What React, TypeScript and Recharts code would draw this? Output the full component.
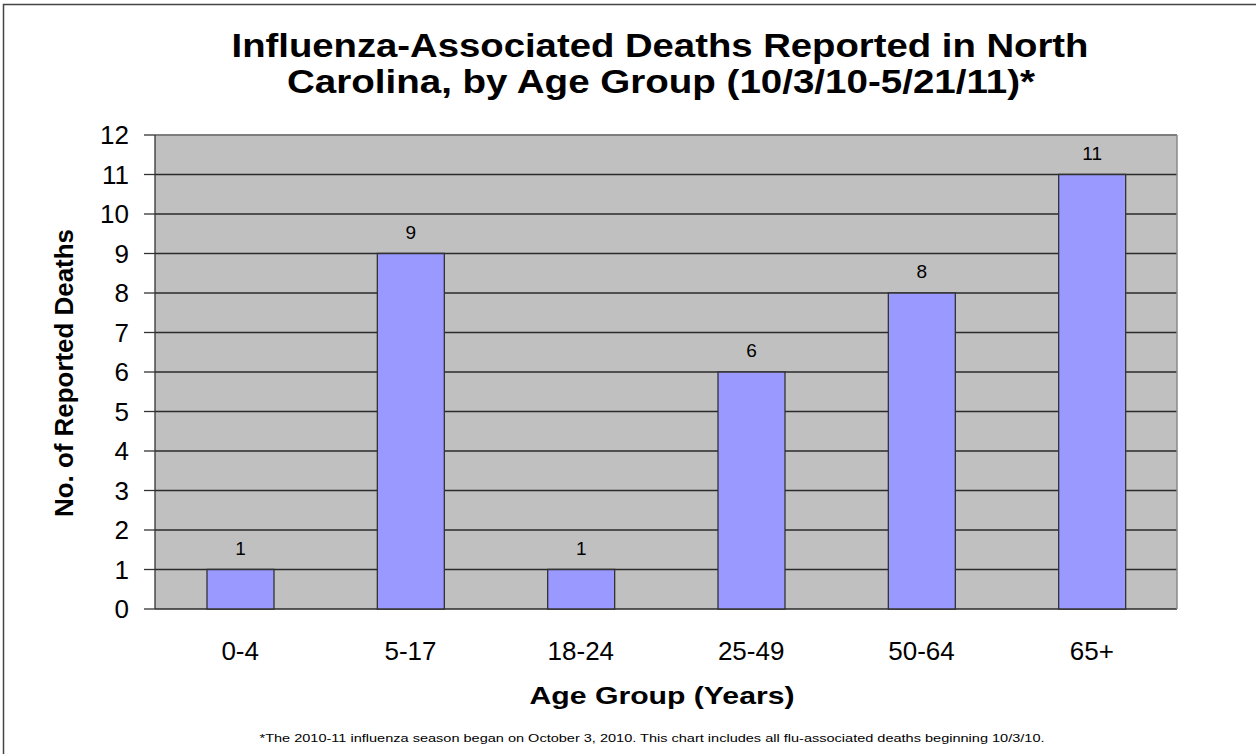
import { BarChart, Bar, XAxis, YAxis, CartesianGrid, LabelList } from 'recharts';

const categories = ['0-4', '5-17', '18-24', '25-49', '50-64', '65+'];
const deaths = [1, 9, 1, 6, 8, 11];
const yTicks = [0, 1, 2, 3, 4, 5, 6, 7, 8, 9, 10, 11, 12];
const edgeTicks = [0, 1, 2, 3, 4, 5, 6];

const titleLines = [
  'Influenza-Associated Deaths Reported in North',
  'Carolina, by Age Group (10/3/10-5/21/11)*',
];
const yTitle = 'No. of Reported Deaths';
const xTitle = 'Age Group (Years)';
const footnote =
  '*The 2010-11 influenza season began on October 3, 2010.  This chart includes all flu-associated deaths beginning 10/3/10.';

const data = categories.map((group, i) => ({ group, deaths: deaths[i] }));

const FONT = 'Arial, "Liberation Sans", sans-serif';

export default function App() {
  return (
    <div style={{ position: 'absolute', left: 0, top: 0, width: 1256, height: 754, background: '#fff', fontFamily: FONT }}>
      <BarChart width={1256} height={754} data={data} margin={{ top: 135, right: 79, bottom: 0, left: 0 }}>
        <CartesianGrid xAxisId="cat" vertical={false} fill="#C0C0C0" fillOpacity={1} stroke="#2a2a2a" strokeWidth={1.3} />
        <CartesianGrid
          xAxisId="cat"
          stroke="#8a8a8a"
          strokeWidth={1.5}
          horizontalCoordinatesGenerator={({ offset }: any) => [offset.top]}
          verticalCoordinatesGenerator={({ offset }: any) => [offset.left + offset.width]}
        />
        <XAxis
          xAxisId="edge"
          type="number"
          domain={[0, 6]}
          ticks={edgeTicks}
          allowDataOverflow
          height={0}
          tick={false}
          tickSize={9}
          axisLine={{ stroke: '#333', strokeWidth: 1.3 }}
          tickLine={{ stroke: '#333', strokeWidth: 1.3 }}
        />
        <XAxis
          xAxisId="cat"
          dataKey="group"
          height={145}
          axisLine={false}
          tickLine={false}
          tickSize={9}
          tickMargin={24}
          interval={0}
          tick={{ fontSize: 26, fill: '#000', fontFamily: FONT }}
        />
        <YAxis
          width={155}
          domain={[0, 12]}
          ticks={yTicks}
          interval={0}
          tickSize={11}
          tickMargin={15}
          axisLine={{ stroke: '#333', strokeWidth: 1.3 }}
          tickLine={{ stroke: '#333', strokeWidth: 1.3 }}
          tick={{ fontSize: 26, fill: '#000', fontFamily: FONT }}
        />
        <Bar xAxisId="cat" dataKey="deaths" fill="#9999FF" stroke="#333" strokeWidth={1.3} barSize={67} isAnimationActive={false}>
          <LabelList dataKey="deaths" position="top" offset={15} fontSize={19} fill="#000" fontFamily={FONT} />
        </Bar>
      </BarChart>
      <svg width={1256} height={754} style={{ position: 'absolute', left: 0, top: 0, pointerEvents: 'none' }}>
        <rect x={3.5} y={4.5} width={1300} height={800} fill="none" stroke="#444" strokeWidth={1.5} />
        <text x={660} y={57} textAnchor="middle" fontSize={33} fontWeight="bold" fontFamily={FONT} textLength={857} lengthAdjust="spacingAndGlyphs">
          {titleLines[0]}
        </text>
        <text x={661} y={93} textAnchor="middle" fontSize={33} fontWeight="bold" fontFamily={FONT} textLength={748} lengthAdjust="spacingAndGlyphs">
          {titleLines[1]}
        </text>
        <text
          transform="translate(73, 373) rotate(-90)"
          textAnchor="middle"
          fontSize={26}
          fontWeight="bold"
          fontFamily={FONT}
          textLength={288}
          lengthAdjust="spacingAndGlyphs"
        >
          {yTitle}
        </text>
        <text x={662} y={704} textAnchor="middle" fontSize={24} fontWeight="bold" fontFamily={FONT} textLength={265} lengthAdjust="spacingAndGlyphs">
          {xTitle}
        </text>
        <text x={652} y={742} textAnchor="middle" fontSize={11} fontFamily={FONT} textLength={785} lengthAdjust="spacingAndGlyphs">
          {footnote}
        </text>
      </svg>
    </div>
  );
}
